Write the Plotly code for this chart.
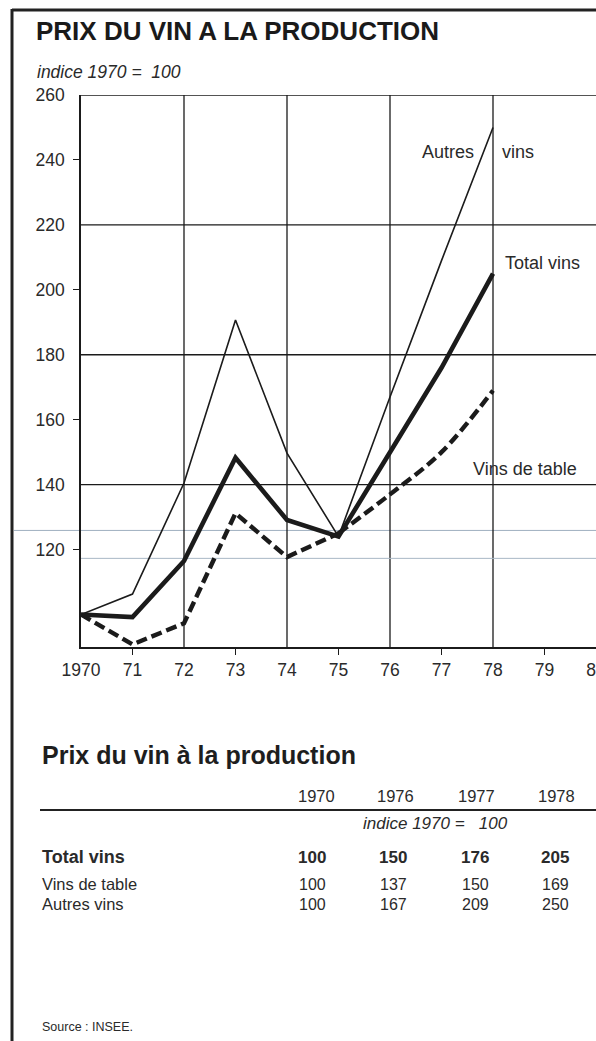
import plotly.graph_objects as go

# ---- data ---------------------------------------------------------------
years = [1970, 1971, 1972, 1973, 1974, 1975, 1976, 1977, 1978]
total_vins = [100, 99.2, 116.5, 148.3, 129.1, 124, 150, 176, 205]
vins_de_table = [100, 90.8, 97.3, 131.2, 117.7, 125, 137, 150, 169]
autres_vins = [100, 106.3, 140.5, 190.7, 149.7, 124, 167, 209, 250]

x_tick_years = list(range(1970, 1981))
x_tick_text = ["1970"] + [str(y)[2:] for y in x_tick_years[1:]]
x_minor_ticks = [1971, 1973, 1975, 1977, 1979]
y_tick_values = [120, 140, 160, 180, 200, 220, 240, 260]
y_minor_ticks = [120, 160, 200, 240]
grid_years = [1972, 1974, 1976, 1978]
grid_levels = [140, 180, 220, 260]
faint_levels = [125.9, 117.3]

table_years = ["1970", "1976", "1977", "1978"]
table_rows = ["Total vins", "Vins de table", "Autres vins"]
table_total = [100, 150, 176, 205]
table_table = [100, 137, 150, 169]
table_autres = [100, 167, 209, 250]

# ---- geometry helpers (pixel -> paper) ----------------------------------
W, H = 596, 1041
L, R, T, B = 81, 596, 95, 647


def px(xp):
    return (xp - L) / (R - L)


def py(yp):
    return (B - yp) / (B - T)


INK = "#1b1b1b"
TXT = "#2a2a2a"
FONT = "Liberation Sans, Arial, sans-serif"

fig = go.Figure()

# Vins de table: straight segments up to 1975, smooth curve after
split = years.index(1975)
fig.add_trace(go.Scatter(
    x=years[:split + 1], y=vins_de_table[:split + 1], mode="lines",
    line=dict(color=INK, width=4.4, dash="11px,5px"), hoverinfo="skip"))
fig.add_trace(go.Scatter(
    x=years[split:], y=vins_de_table[split:], mode="lines",
    line=dict(color=INK, width=4.4, dash="11px,5px", shape="spline", smoothing=1.0),
    hoverinfo="skip"))
fig.add_trace(go.Scatter(
    x=years, y=autres_vins, mode="lines",
    line=dict(color=INK, width=1.6), hoverinfo="skip"))
fig.add_trace(go.Scatter(
    x=years, y=total_vins, mode="lines",
    line=dict(color=INK, width=4.6), hoverinfo="skip"))

shapes = []
for gy in grid_years:
    shapes.append(dict(type="line", xref="x", yref="y", x0=gy, x1=gy, y0=90, y1=260,
                       line=dict(color=INK, width=1.3), layer="below"))
for gl in grid_levels:
    shapes.append(dict(type="line", xref="x", yref="y", x0=1970, x1=1980, y0=gl, y1=gl,
                       line=dict(color=INK, width=1.3), layer="below"))
# faint printed rules across the lower part of the graph
shapes.append(dict(type="line", xref="paper", yref="y", x0=px(14), x1=1, y0=faint_levels[0],
                   y1=faint_levels[0], line=dict(color="#9fb0c0", width=1), layer="below"))
shapes.append(dict(type="line", xref="x", yref="y", x0=1970, x1=1980, y0=faint_levels[1],
                   y1=faint_levels[1], line=dict(color="#a9b8c6", width=1), layer="below"))
# page frame (top and left)
shapes.append(dict(type="line", xref="paper", yref="paper", x0=px(12), x1=px(600),
                   y0=py(10), y1=py(10), line=dict(color="#222", width=3)))
shapes.append(dict(type="line", xref="paper", yref="paper", x0=px(12), x1=px(12),
                   y0=py(9), y1=py(1045), line=dict(color="#222", width=3)))
# table rule
shapes.append(dict(type="line", xref="paper", yref="paper", x0=px(40), x1=px(600),
                   y0=py(810), y1=py(810), line=dict(color="#222", width=1.8)))

ann = []


def text(x, y, s, size, anchor="left", bold=False, italic=False, color=TXT):
    ann.append(dict(xref="paper", yref="paper", x=px(x), y=py(y), text=s, showarrow=False,
                    xanchor=anchor, yanchor="middle",
                    font=dict(family=FONT, size=size, color=color,
                              weight="bold" if bold else "normal",
                              style="italic" if italic else "normal")))


text(34, 31, "PRIX DU VIN A LA PRODUCTION", 26, bold=True, color="#1a1a1a")
text(35, 72, "indice 1970 =\u00a0\u00a0100", 17.5, italic=True)

# series labels
text(476, 152, "Autres", 18, anchor="right")
text(500, 152, "vins", 18)
text(503, 263, "Total vins", 18)
text(471, 469, "Vins de table", 18)

# table
text(40, 755, "Prix du vin à la production", 25, bold=True, color="#1e1e1e")
for xc, yr in zip([316, 395, 476, 556], table_years):
    text(xc, 796, yr, 16.5, anchor="center")
text(435, 823, "indice 1970 =\u00a0\u00a0\u00a0100", 17, anchor="center", italic=True)
row_y = [857, 884, 904]
row_vals = [table_total, table_table, table_autres]
for i, (name, vals) in enumerate(zip(table_rows, row_vals)):
    text(40, row_y[i], name, 18 if i == 0 else 16.5, bold=(i == 0))
    for xc, v in zip([312, 393, 475, 555], vals):
        text(xc, row_y[i], str(v), 17 if i == 0 else 16, anchor="center", bold=(i == 0))

text(40, 1027, "Source : INSEE.", 12.5)

fig.update_layout(
    width=W, height=H, autosize=False,
    margin=dict(l=L, r=W - R, t=T, b=H - B, pad=0),
    paper_bgcolor="white", plot_bgcolor="white",
    showlegend=False,
    shapes=shapes, annotations=ann,
    xaxis=dict(range=[1970, 1980], tickmode="array", tickvals=x_tick_years,
               ticktext=x_tick_text, ticks="", showgrid=False, zeroline=False,
               showline=True, linecolor=INK, linewidth=1.5, automargin=False,
               ticklabelstandoff=6, ticklabeloverflow="allow",
               tickfont=dict(family=FONT, size=17.5, color=TXT),
               minor=dict(tickmode="array", tickvals=x_minor_ticks, ticks="outside",
                          ticklen=6, tickwidth=1.3, tickcolor=INK, showgrid=False)),
    yaxis=dict(range=[90, 260], tickmode="array", tickvals=y_tick_values,
               ticks="", showgrid=False, zeroline=False,
               showline=True, linecolor=INK, linewidth=1.5, automargin=False,
               ticklabelstandoff=11,
               tickfont=dict(family=FONT, size=17.5, color=TXT),
               minor=dict(tickmode="array", tickvals=y_minor_ticks, ticks="outside",
                          ticklen=6, tickwidth=1.3, tickcolor=INK, showgrid=False)),
)

fig.write_html("out.html")
